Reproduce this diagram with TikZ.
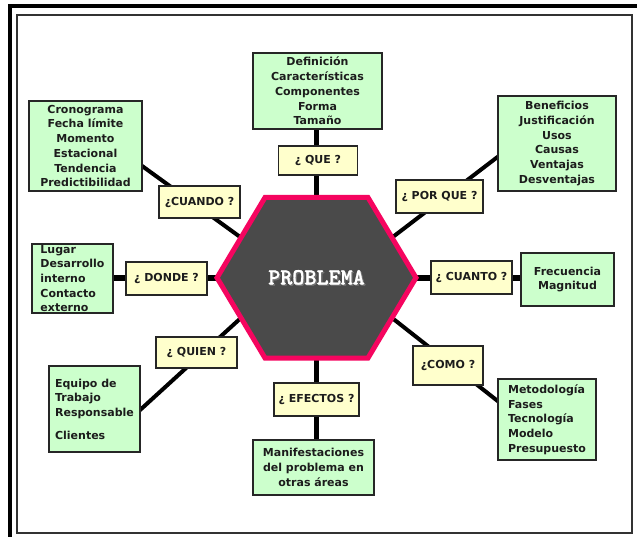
\documentclass[tikz,border=0pt]{standalone}
\usepackage{fontspec}
\setmainfont{DejaVu Sans}
\newfontfamily\probfont{lmmonolt10-bold.otf}[FakeBold=1.2]
\usetikzlibrary{calc}
\definecolor{boxgreen}{RGB}{204,255,204}
\definecolor{boxyellow}{RGB}{255,255,204}
\definecolor{hexpink}{RGB}{245,5,95}
\definecolor{hexgray}{RGB}{74,74,74}
\definecolor{txt}{RGB}{28,28,28}
\pgfdeclarelayer{bg}
\pgfsetlayers{bg,main}
\begin{document}
\begin{tikzpicture}[x=1pt,y=-1pt,
  greenbox/.style={draw=black!85,line width=1.2pt,fill=boxgreen,inner sep=0pt,
    font=\fontsize{11}{14.7}\selectfont\bfseries,text=txt,align=center},
  boxtext/.style={inner sep=0pt,font=\fontsize{11}{14.7}\selectfont\bfseries,text=txt,align=left},
  ylabel/.style={draw=black!85,line width=1.2pt,fill=boxyellow,inner sep=0pt,
    font=\fontsize{11}{13}\selectfont\bfseries,text=txt},
  diag/.style={line width=4pt,black},
  vconn/.style={line width=5pt,black},
  hconn/.style={line width=6pt,black},
]
\useasboundingbox (0,0) rectangle (637,537);

% frame
\draw[line width=3.5pt] (10,537) -- (10,6) -- (637,6);
\draw[line width=1.3pt,black!80] (17,15) rectangle (632,533);

% hexagon
\coordinate (v1) at (265,197.5);
\coordinate (v2) at (368,197.5);
\coordinate (v3) at (416,277.75);
\coordinate (v4) at (368,358);
\coordinate (v5) at (265,358);
\coordinate (v6) at (217,277.75);
\coordinate (hT) at (316.5,197.5);
\coordinate (hB) at (316.5,358);
\coordinate (hL) at (217,277.75);
\coordinate (hR) at (416,277.75);
\coordinate (hUL) at ($(v1)!0.5!(v6)$);
\coordinate (hUR) at ($(v2)!0.5!(v3)$);
\coordinate (hLL) at ($(v5)!0.5!(v6)$);
\coordinate (hLR) at ($(v4)!0.5!(v3)$);
\draw[line width=5pt,draw=hexpink,fill=hexgray,line join=miter]
  (v1) -- (v2) -- (v3) -- (v4) -- (v5) -- (v6) -- cycle;
\node[font=\probfont\fontsize{23}{23}\selectfont,text=white,inner sep=0pt] (prob) at (316.5,278)
  {\makebox[0pt][l]{\hspace{1.3pt}\raisebox{-1.3pt}{\textcolor{black!55}{PROBLEMA}}}PROBLEMA};

% green boxes
\node[greenbox,minimum width=129pt,minimum height=76pt] (def) at (317.5,91)
  {Definición\\Características\\Componentes\\Forma\\Tamaño};
\node[greenbox,minimum width=113pt,minimum height=90pt] (cron) at (85.5,146)
  {Cronograma\\Fecha límite\\Momento\\Estacional\\Tendencia\\Predictibilidad};
\node[greenbox,minimum width=118pt,minimum height=95pt] (benef) at (557,143.5)
  {Beneficios\\Justificación\\Usos\\Causas\\Ventajas\\Desventajas};
\node[greenbox,minimum width=81pt,minimum height=69pt] (lugar) at (72.5,278.5) {};
\node[boxtext] (lugart) at (lugar.center) {Lugar\\Desarrollo\\interno\\Contacto\\externo};
\node[greenbox,minimum width=93pt,minimum height=53pt] (frec) at (567.5,279.5)
  {Frecuencia\\Magnitud};
\node[greenbox,minimum width=91pt,minimum height=86pt] (equipo) at (94.5,409) {};
\node[boxtext] (equipot) at (equipo.center) {Equipo de\\Trabajo\\Responsable\\[8pt]Clientes};
\node[greenbox,minimum width=121pt,minimum height=55pt] (manif) at (313.5,467.5)
  {Manifestaciones\\del problema en\\otras áreas};
\node[greenbox,minimum width=98pt,minimum height=81pt] (metod) at (547,419.5) {};
\node[boxtext] (metodt) at (metod.center) {Metodología\\Fases\\Tecnología\\Modelo\\Presupuesto};

% yellow labels
\node[ylabel,minimum width=79pt,minimum height=29pt] (que) at (318,160.5) {¿ QUE ?};
\node[ylabel,minimum width=81pt,minimum height=32pt] (cuando) at (199.5,202) {¿CUANDO ?};
\node[ylabel,minimum width=87pt,minimum height=33pt] (porque) at (439.5,196.5) {¿ POR QUE ?};
\node[ylabel,minimum width=81pt,minimum height=33pt] (donde) at (166.5,278.5) {¿ DONDE ?};
\node[ylabel,minimum width=81pt,minimum height=33pt] (cuanto) at (471.5,277.5) {¿ CUANTO ?};
\node[ylabel,minimum width=81pt,minimum height=31pt] (quien) at (196.5,352.5) {¿ QUIEN ?};
\node[ylabel,minimum width=85pt,minimum height=33pt] (efectos) at (316.5,399.5) {¿ EFECTOS ?};
\node[ylabel,minimum width=70pt,minimum height=39pt] (como) at (448,365.5) {¿COMO ?};

% connectors (behind)
\begin{pgfonlayer}{bg}
\draw[vconn] (hT) -- (hT |- def.south);
\draw[diag] ($(cron.east)+(-6,16)$) -- (hUL);
\draw[diag] ($(benef.west)+(6,9)$) -- (hUR);
\draw[hconn] (lugar.east |- hL) -- (hL);
\draw[hconn] (hR) -- (frec.west |- hR);
\draw[diag] ($(equipo.east)+(-6,6)$) -- (hLL);
\draw[vconn] (hB) -- (hB |- manif.north);
\draw[diag] (hLR) -- ($(metod.west)+(6,-14)$);
\end{pgfonlayer}
\end{tikzpicture}
\end{document}
